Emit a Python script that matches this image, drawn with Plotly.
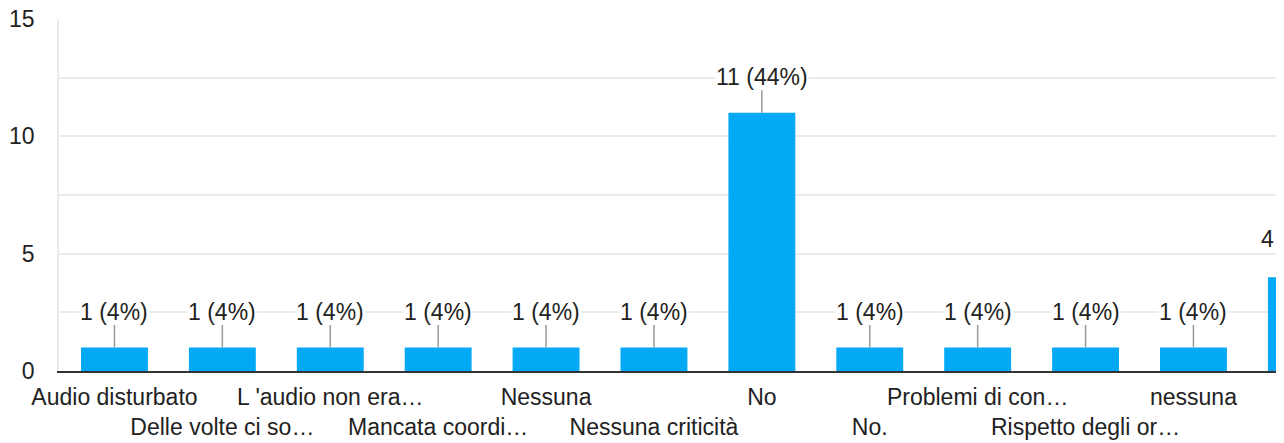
import plotly.graph_objects as go

categories = [
    "Audio disturbato", "Delle volte ci so…", "L 'audio non era…", "Mancata coordi…",
    "Nessuna", "Nessuna criticità", "No", "No.", "Problemi di con…",
    "Rispetto degli or…", "nessuna", "no",
]
counts = [1, 1, 1, 1, 1, 1, 11, 1, 1, 1, 1, 4]
percents = [4, 4, 4, 4, 4, 4, 44, 4, 4, 4, 4, 16]
y_ticks = [0, 5, 10, 15]

# page body has an 8px margin, so the figure is sized to fit the window
W, H = 1276, 435
M = dict(l=51, r=8, t=11, b=72)
X_RANGE = [-0.514, 10.765]
Y_RANGE = [0, 15]
FONT = "Liberation Sans, Arial, sans-serif"
TXT = "#222222"
BAR = "#03a9f4"
FS = 23

labels = [f"{c} ({p}%)" for c, p in zip(counts, percents)]
ticktext = [c if i % 2 == 0 else "<br>" + c for i, c in enumerate(categories)]

fig = go.Figure()
fig.add_trace(go.Bar(
    x=categories, y=counts, marker=dict(color=BAR, line=dict(width=0)),
    width=0.62, hoverinfo="skip", showlegend=False,
))

px_per_unit = (H - M["t"] - M["b"]) / (Y_RANGE[1] - Y_RANGE[0])
label_off_px = 36
out_x, out_y, out_t = [], [], []
for i, (c, v, t) in enumerate(zip(categories, counts, labels)):
    if X_RANGE[0] <= i <= X_RANGE[1]:
        fig.add_annotation(
            x=c, y=v, xref="x", yref="y", text=t, showarrow=True,
            ax=0, ay=-label_off_px, arrowhead=0, arrowwidth=1.5,
            arrowcolor="#999999", standoff=0, bgcolor="white", borderpad=0,
            font=dict(family=FONT, size=FS, color=TXT),
        )
    else:
        out_x.append(c)
        out_y.append(v + label_off_px / px_per_unit)
        out_t.append(t)

if out_x:
    fig.add_trace(go.Scatter(
        x=out_x, y=out_y, mode="text", text=out_t, textposition="middle center",
        textfont=dict(family=FONT, size=FS, color=TXT), cliponaxis=True,
        hoverinfo="skip", showlegend=False,
    ))

fig.update_layout(
    width=W, height=H, margin=M, plot_bgcolor="white", paper_bgcolor="white",
    font=dict(family=FONT, size=FS, color=TXT),
    xaxis=dict(
        type="category", range=X_RANGE, tickmode="array", tickvals=categories,
        ticktext=ticktext, showgrid=False, showline=True, linecolor="#333333",
        linewidth=2, ticks="", ticklabelstandoff=4, tickangle=0, automargin=False,
        tickfont=dict(size=FS, color=TXT), fixedrange=True,
        ticklabeloverflow="allow",
    ),
    yaxis=dict(
        range=Y_RANGE, tickmode="array", tickvals=y_ticks, showgrid=True,
        gridcolor="#ebebeb", gridwidth=1.5, zeroline=False, showline=True,
        linecolor="#ebebeb", linewidth=1.5, ticks="", ticklabelstandoff=18,
        automargin=False, tickfont=dict(size=FS, color=TXT),
        ticklabeloverflow="allow",
        minor=dict(dtick=2.5, showgrid=True, gridcolor="#ebebeb", gridwidth=1.5),
    ),
)

fig.write_html("out.html")
